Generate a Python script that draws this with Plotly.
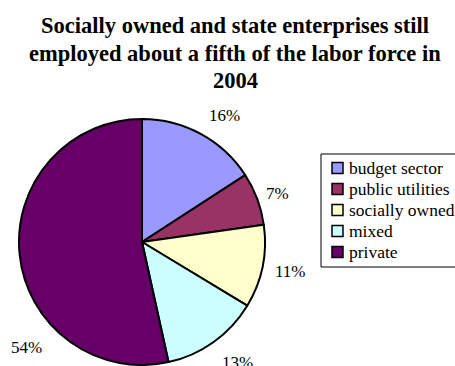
import plotly.graph_objects as go

# Employment by enterprise ownership, 2004 (share of labor force, %)
sectors = ["budget sector", "public utilities", "socially owned", "mixed", "private"]
shares = [16, 7, 11, 13, 54]
slice_colors = ["#9999FF", "#993366", "#FFFFCC", "#CCFFFF", "#660066"]

title_lines = [
    "Socially owned and state enterprises still",
    "employed about a fifth of the labor force in",
    "2004",
]

# Percent label anchor points in pixels (x, y from top-left)
label_px = [(224, 115), (277, 193), (290, 271), (237, 362), (26, 347)]

W, H = 455, 366
SERIF = "Liberation Serif, Times New Roman, serif"


def px_x(x):
    return x / W


def px_y(y):
    return 1 - y / H


fig = go.Figure(
    go.Pie(
        labels=sectors,
        values=shares,
        sort=False,
        direction="clockwise",
        rotation=0,
        textinfo="none",
        hoverinfo="label+value",
        marker=dict(colors=slice_colors, line=dict(color="black", width=2)),
        domain=dict(x=[px_x(19), px_x(265)], y=[px_y(365), px_y(119)]),
        showlegend=False,
    )
)

# Chart title, one line per annotation for tight leading
for i, line in enumerate(title_lines):
    fig.add_annotation(
        x=px_x(235), y=px_y(25.5 + i * 27.5), xref="paper", yref="paper",
        text=f"<b>{line}</b>", showarrow=False,
        xanchor="center", yanchor="middle",
        font=dict(family=SERIF, size=22.5, color="black"),
    )

# Percentage labels around the pie
for v, (px, py) in zip(shares, label_px):
    fig.add_annotation(
        x=px_x(px), y=px_y(py), xref="paper", yref="paper",
        text=f"{v}%", showarrow=False,
        xanchor="center", yanchor="middle",
        font=dict(family=SERIF, size=17, color="black"),
    )

# Legend: framed box with a swatch and a name per sector
box_left, box_top, box_bottom = 321, 154, 267
row0, row_step = 168, 21
sw = 11
fig.add_shape(
    type="rect", xref="paper", yref="paper",
    x0=px_x(box_left), x1=px_x(box_left + 160),
    y0=px_y(box_bottom), y1=px_y(box_top),
    line=dict(color="black", width=1), fillcolor="white", layer="above",
)
for i, (name, col) in enumerate(zip(sectors, slice_colors)):
    cy = row0 + i * row_step
    fig.add_shape(
        type="rect", xref="paper", yref="paper",
        x0=px_x(332), x1=px_x(332 + sw),
        y0=px_y(cy + sw / 2), y1=px_y(cy - sw / 2),
        line=dict(color="black", width=1.5), fillcolor=col, layer="above",
    )
    fig.add_annotation(
        x=px_x(347), y=px_y(cy), xref="paper", yref="paper",
        text=name, showarrow=False, xanchor="left", yanchor="middle",
        font=dict(family=SERIF, size=17.5, color="black"),
    )

fig.update_layout(
    width=W, height=H,
    margin=dict(l=0, r=0, t=0, b=0, autoexpand=False),
    paper_bgcolor="white",
    plot_bgcolor="white",
    showlegend=False,
)

fig.write_html("out.html")
